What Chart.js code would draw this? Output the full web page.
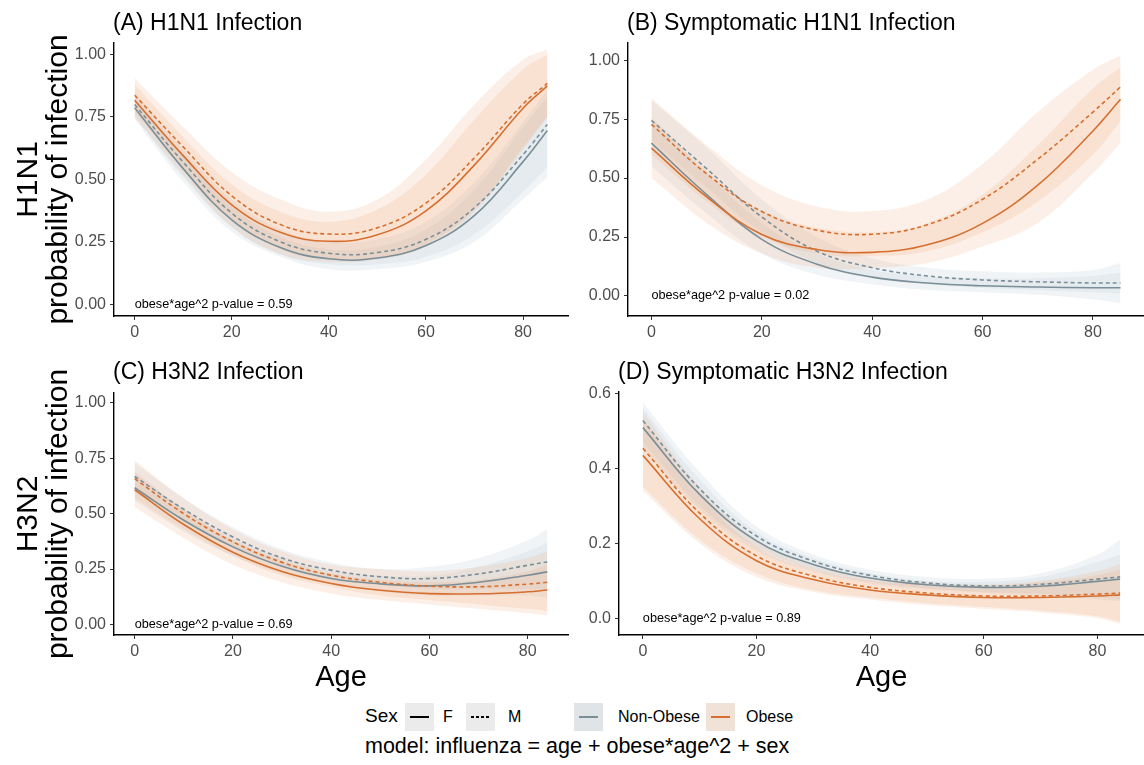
<!DOCTYPE html>
<html>
<head>
<meta charset="utf-8">
<script src="https://cdn.jsdelivr.net/npm/chart.js@4.4.1/dist/chart.umd.min.js"></script>
<style>
  body { margin:0; width:1144px; height:765px; background:#fff; position:relative; overflow:hidden;
         font-family:"Liberation Sans", Arial, Helvetica, sans-serif; }
  canvas { position:absolute; }
  .lg { position:absolute; color:#000; white-space:nowrap; }
  .key { position:absolute; width:29px; height:28px; }
  .key i { position:absolute; left:5px; top:13px; width:19px; height:2px; }
</style>
</head>
<body>
<canvas id="pA" width="572" height="345" style="left:0;top:0"></canvas>
<canvas id="pB" width="569" height="345" style="left:575px;top:0"></canvas>
<canvas id="pC" width="572" height="355" style="left:0;top:345px"></canvas>
<canvas id="pD" width="569" height="355" style="left:575px;top:345px"></canvas>

<div class="lg" style="left:365px;top:705px;font-size:19px;">Sex</div>
<div class="key" style="left:405px;top:703px;background:#ebebeb;"><i style="background:#000"></i></div>
<div class="lg" style="left:443px;top:708px;font-size:16px;">F</div>
<div class="key" style="left:466px;top:703px;background:#ebebeb;"><i style="background:repeating-linear-gradient(to right,#000 0 3px,transparent 3px 5px)"></i></div>
<div class="lg" style="left:508px;top:708px;font-size:16px;">M</div>
<div class="key" style="left:574px;top:703px;background:#e0e4e7;"><i style="background:#7a8e98"></i></div>
<div class="lg" style="left:618px;top:708px;font-size:16px;">Non-Obese</div>
<div class="key" style="left:706px;top:703px;background:#f1e2d7;"><i style="background:#d66f2e"></i></div>
<div class="lg" style="left:746px;top:708px;font-size:16px;">Obese</div>
<div class="lg" style="left:365px;top:734px;font-size:21.5px;">model: influenza = age + obese*age^2 + sex</div>

<script>
// ---- ages at which the fitted curves are tabulated ----
const agesH1 = [0, 10, 20, 30, 40, 50, 60, 70, 80, 85];
const agesH3 = [0, 10, 20, 30, 40, 50, 60, 70, 80, 84];
const xTicks = [0, 20, 40, 60, 80];
const yTicksProb = [0, 0.25, 0.5, 0.75, 1];
const yTicksD = [0, 0.2, 0.4, 0.6];

// ---- (A) H1N1 infection ----
const A_obF = [0.817, 0.595, 0.398, 0.288, 0.252, 0.278, 0.374, 0.558, 0.785, 0.874];
const A_obM = [0.837, 0.630, 0.434, 0.319, 0.281, 0.306, 0.405, 0.587, 0.802, 0.884];
const A_noF = [0.787, 0.543, 0.338, 0.227, 0.182, 0.185, 0.235, 0.356, 0.571, 0.696];
const A_noM = [0.800, 0.569, 0.365, 0.250, 0.204, 0.207, 0.260, 0.387, 0.599, 0.720];
const A_obF_lo = [0.75, 0.52, 0.31, 0.20, 0.17, 0.18, 0.23, 0.37, 0.62, 0.75];
const A_obF_hi = [0.88, 0.67, 0.48, 0.37, 0.33, 0.38, 0.52, 0.74, 0.94, 1.00];
const A_obM_lo = [0.77, 0.55, 0.34, 0.22, 0.18, 0.18, 0.24, 0.38, 0.63, 0.75];
const A_obM_hi = [0.905, 0.71, 0.53, 0.42, 0.37, 0.42, 0.58, 0.80, 0.98, 1.02];
const A_noF_lo = [0.74, 0.49, 0.29, 0.19, 0.14, 0.14, 0.17, 0.25, 0.42, 0.51];
const A_noF_hi = [0.83, 0.60, 0.39, 0.27, 0.22, 0.23, 0.30, 0.46, 0.71, 0.83];
const A_noM_lo = [0.75, 0.51, 0.31, 0.20, 0.16, 0.16, 0.19, 0.28, 0.45, 0.55];
const A_noM_hi = [0.85, 0.62, 0.42, 0.30, 0.25, 0.26, 0.33, 0.49, 0.73, 0.86];

// ---- (B) symptomatic H1N1 infection ----
const B_obF = [0.627, 0.420, 0.261, 0.197, 0.185, 0.217, 0.308, 0.470, 0.700, 0.834];
const B_obM = [0.728, 0.518, 0.358, 0.279, 0.262, 0.302, 0.410, 0.580, 0.780, 0.887];
const B_noF = [0.648, 0.430, 0.240, 0.135, 0.080, 0.055, 0.043, 0.038, 0.035, 0.035];
const B_noM = [0.745, 0.540, 0.335, 0.190, 0.120, 0.085, 0.068, 0.060, 0.055, 0.055];
const B_obF_lo = [0.50, 0.31, 0.18, 0.12, 0.12, 0.14, 0.21, 0.31, 0.52, 0.65];
const B_obF_hi = [0.76, 0.53, 0.36, 0.29, 0.27, 0.31, 0.43, 0.64, 0.88, 0.97];
const B_obM_lo = [0.60, 0.40, 0.25, 0.18, 0.17, 0.19, 0.27, 0.40, 0.60, 0.74];
const B_obM_hi = [0.84, 0.64, 0.47, 0.38, 0.36, 0.41, 0.56, 0.78, 0.96, 1.02];
const B_noF_lo = [0.55, 0.35, 0.18, 0.09, 0.05, 0.025, 0.015, 0.005, -0.015, -0.03];
const B_noF_hi = [0.75, 0.52, 0.31, 0.18, 0.11, 0.085, 0.075, 0.075, 0.085, 0.10];
const B_noM_lo = [0.66, 0.46, 0.27, 0.14, 0.075, 0.05, 0.035, 0.025, 0.015, 0.01];
const B_noM_hi = [0.83, 0.63, 0.41, 0.25, 0.16, 0.12, 0.105, 0.10, 0.11, 0.14];

// ---- (C) H3N2 infection ----
const C_obF = [0.608, 0.451, 0.326, 0.239, 0.185, 0.154, 0.139, 0.138, 0.147, 0.155];
const C_obM = [0.658, 0.500, 0.373, 0.280, 0.222, 0.190, 0.173, 0.170, 0.182, 0.190];
const C_noF = [0.617, 0.470, 0.350, 0.262, 0.207, 0.183, 0.174, 0.190, 0.222, 0.237];
const C_noM = [0.668, 0.520, 0.395, 0.300, 0.245, 0.215, 0.207, 0.228, 0.267, 0.282];
const C_obF_lo = [0.53, 0.39, 0.27, 0.19, 0.14, 0.11, 0.09, 0.07, 0.05, 0.04];
const C_obF_hi = [0.69, 0.52, 0.38, 0.29, 0.23, 0.20, 0.19, 0.20, 0.24, 0.27];
const C_obM_lo = [0.57, 0.43, 0.31, 0.22, 0.17, 0.13, 0.11, 0.09, 0.07, 0.06];
const C_obM_hi = [0.74, 0.57, 0.43, 0.33, 0.27, 0.25, 0.24, 0.26, 0.30, 0.33];
const C_noF_lo = [0.56, 0.42, 0.31, 0.23, 0.18, 0.15, 0.13, 0.13, 0.13, 0.12];
const C_noF_hi = [0.68, 0.52, 0.39, 0.30, 0.24, 0.22, 0.22, 0.26, 0.33, 0.37];
const C_noM_lo = [0.60, 0.47, 0.35, 0.26, 0.21, 0.18, 0.16, 0.16, 0.16, 0.16];
const C_noM_hi = [0.73, 0.57, 0.44, 0.34, 0.28, 0.25, 0.26, 0.30, 0.38, 0.43];

// ---- (D) symptomatic H3N2 infection ----
const D_obF = [0.434, 0.265, 0.153, 0.103, 0.075, 0.062, 0.055, 0.055, 0.059, 0.062];
const D_obM = [0.453, 0.280, 0.166, 0.112, 0.082, 0.067, 0.059, 0.059, 0.064, 0.067];
const D_noF = [0.508, 0.330, 0.206, 0.143, 0.107, 0.089, 0.082, 0.085, 0.098, 0.104];
const D_noM = [0.527, 0.345, 0.219, 0.152, 0.114, 0.094, 0.086, 0.090, 0.104, 0.110];
const D_obF_lo = [0.34, 0.20, 0.11, 0.07, 0.05, 0.035, 0.025, 0.015, 0.0, -0.015];
const D_obF_hi = [0.53, 0.33, 0.19, 0.13, 0.10, 0.09, 0.085, 0.095, 0.115, 0.13];
const D_obM_lo = [0.35, 0.21, 0.12, 0.075, 0.055, 0.04, 0.03, 0.02, 0.005, -0.01];
const D_obM_hi = [0.55, 0.35, 0.21, 0.14, 0.11, 0.095, 0.09, 0.10, 0.125, 0.145];
const D_noF_lo = [0.45, 0.29, 0.18, 0.125, 0.093, 0.077, 0.068, 0.06, 0.05, 0.045];
const D_noF_hi = [0.56, 0.37, 0.23, 0.16, 0.12, 0.10, 0.097, 0.11, 0.15, 0.17];
const D_noM_lo = [0.47, 0.30, 0.19, 0.13, 0.097, 0.08, 0.07, 0.065, 0.055, 0.05];
const D_noM_hi = [0.575, 0.39, 0.245, 0.17, 0.13, 0.11, 0.105, 0.12, 0.17, 0.21];

const pvalA = 'obese*age^2 p-value = 0.59';
const pvalB = 'obese*age^2 p-value = 0.02';
const pvalC = 'obese*age^2 p-value = 0.69';
const pvalD = 'obese*age^2 p-value = 0.89';

// ---- styling ----
const FONT = '"Liberation Sans", Arial, Helvetica, sans-serif';
const ORANGE = '#d66f2e';
const GREY = '#7a8e98';
const ORANGE_FILL = 'rgba(235,160,110,0.17)';
const GREY_FILL = 'rgba(150,170,185,0.13)';
Chart.defaults.font.family = FONT;

const pts = (ages, vals) => ages.map((a, i) => ({ x: a, y: vals[i] }));

function curve(ages, vals, color, dashed) {
  return { data: pts(ages, vals), borderColor: color, borderWidth: 1.6,
           borderDash: dashed ? [4, 3] : [], pointRadius: 0, fill: false, tension: 0.4 };
}
function band(ages, lo, hi, color) {
  return [
    { data: pts(ages, hi), borderColor: 'rgba(0,0,0,0)', borderWidth: 0, pointRadius: 0,
      backgroundColor: color, fill: '+1', tension: 0.4 },
    { data: pts(ages, lo), borderColor: 'rgba(0,0,0,0)', borderWidth: 0, pointRadius: 0,
      fill: false, tension: 0.4 }
  ];
}

// panel heading drawn flush with the left edge of the plotting area
const panelTitle = {
  id: 'panelTitle',
  afterDraw(chart, args, opts) {
    const ctx = chart.ctx;
    ctx.save();
    ctx.font = '23px ' + FONT;
    ctx.fillStyle = '#000';
    ctx.textAlign = 'left';
    ctx.textBaseline = 'alphabetic';
    ctx.fillText(opts.text, chart.chartArea.left - 1, opts.y);
    ctx.restore();
  }
};
// p-value note anchored at age 0, probability 0
const pNote = {
  id: 'pNote',
  afterDatasetsDraw(chart, args, opts) {
    const ctx = chart.ctx;
    ctx.save();
    ctx.font = '12.7px ' + FONT;
    ctx.fillStyle = '#000';
    ctx.textAlign = 'left';
    ctx.textBaseline = 'middle';
    ctx.fillText(opts.text, chart.scales.x.getPixelForValue(0), chart.scales.y.getPixelForValue(0));
    ctx.restore();
  }
};

function panel(id, p) {
  const datasets = [
    curve(p.ages, p.obM, ORANGE, true),
    curve(p.ages, p.obF, ORANGE, false),
    curve(p.ages, p.noM, GREY, true),
    curve(p.ages, p.noF, GREY, false),
    ...band(p.ages, p.obM_lo, p.obM_hi, ORANGE_FILL),
    ...band(p.ages, p.obF_lo, p.obF_hi, ORANGE_FILL),
    ...band(p.ages, p.noM_lo, p.noM_hi, GREY_FILL),
    ...band(p.ages, p.noF_lo, p.noF_hi, GREY_FILL)
  ];
  const axisCommon = {
    type: 'linear',
    grid: { display: true, drawOnChartArea: false, drawTicks: true, tickLength: 4, color: '#333', lineWidth: 1 },
    border: { display: true, color: '#000', width: 1.4 }
  };
  new Chart(document.getElementById(id), {
    type: 'line',
    data: { datasets },
    options: {
      responsive: false, animation: false, events: [],
      layout: { padding: { top: p.padTop, right: p.padRight, left: 0, bottom: 0 } },
      plugins: {
        legend: { display: false }, tooltip: { enabled: false },
        panelTitle: { text: p.title, y: p.titleY },
        pNote: { text: p.note }
      },
      scales: {
        x: Object.assign({}, axisCommon, {
          min: p.xMin, max: p.xMax,
          afterBuildTicks: s => { s.ticks = xTicks.map(v => ({ value: v })); },
          afterFit: s => { s.height = p.xH; },
          ticks: { font: { size: 16 }, color: '#4d4d4d', padding: 3, maxRotation: 0, callback: v => String(v) },
          title: p.xTitle
            ? { display: true, text: p.xTitle, color: '#000', font: { size: 29, lineHeight: 1.2 }, padding: { top: 0, bottom: 5 } }
            : { display: false }
        }),
        y: Object.assign({}, axisCommon, {
          min: p.yMin, max: p.yMax,
          afterBuildTicks: s => { s.ticks = p.yTicks.map(v => ({ value: v })); },
          afterFit: s => { s.width = p.yW; },
          ticks: { font: { size: 16 }, color: '#4d4d4d', padding: 4, callback: v => v.toFixed(p.yDec) },
          title: p.yTitle
            ? { display: true, text: p.yTitle, color: '#000', font: { size: 30, lineHeight: 1.0 }, padding: { top: 14, bottom: 0 } }
            : { display: false }
        })
      }
    },
    plugins: [panelTitle, pNote]
  });
}

panel('pA', {
  ages: agesH1, obF: A_obF, obM: A_obM, noF: A_noF, noM: A_noM,
  obF_lo: A_obF_lo, obF_hi: A_obF_hi, obM_lo: A_obM_lo, obM_hi: A_obM_hi,
  noF_lo: A_noF_lo, noF_hi: A_noF_hi, noM_lo: A_noM_lo, noM_hi: A_noM_hi,
  title: '(A) H1N1 Infection', titleY: 30, note: pvalA,
  padTop: 43, padRight: 4, yW: 114, xH: 29,
  xMin: -4.25, xMax: 89.25, yMin: -0.047, yMax: 1.046, yTicks: yTicksProb, yDec: 2,
  yTitle: ['H1N1', 'probability of infection']
});
panel('pB', {
  ages: agesH1, obF: B_obF, obM: B_obM, noF: B_noF, noM: B_noM,
  obF_lo: B_obF_lo, obF_hi: B_obF_hi, obM_lo: B_obM_lo, obM_hi: B_obM_hi,
  noF_lo: B_noF_lo, noF_hi: B_noF_hi, noM_lo: B_noM_lo, noM_hi: B_noM_hi,
  title: '(B) Symptomatic H1N1 Infection', titleY: 30, note: pvalB,
  padTop: 43, padRight: 0, yW: 53, xH: 29,
  xMin: -4.25, xMax: 89.25, yMin: -0.085, yMax: 1.073, yTicks: yTicksProb, yDec: 2
});
panel('pC', {
  ages: agesH3, obF: C_obF, obM: C_obM, noF: C_noF, noM: C_noM,
  obF_lo: C_obF_lo, obF_hi: C_obF_hi, obM_lo: C_obM_lo, obM_hi: C_obM_hi,
  noF_lo: C_noF_lo, noF_hi: C_noF_hi, noM_lo: C_noM_lo, noM_hi: C_noM_hi,
  title: '(C) H3N2 Infection', titleY: 34, note: pvalC,
  padTop: 48, padRight: 4, yW: 114, xH: 65,
  xMin: -4.2, xMax: 88.2, yMin: -0.048, yMax: 1.045, yTicks: yTicksProb, yDec: 2,
  yTitle: ['H3N2', 'probability of infection'], xTitle: 'Age'
});
panel('pD', {
  ages: agesH3, obF: D_obF, obM: D_obM, noF: D_noF, noM: D_noM,
  obF_lo: D_obF_lo, obF_hi: D_obF_hi, obM_lo: D_obM_lo, obM_hi: D_obM_hi,
  noF_lo: D_noF_lo, noF_hi: D_noF_hi, noM_lo: D_noM_lo, noM_hi: D_noM_hi,
  title: '(D) Symptomatic H3N2 Infection', titleY: 34, note: pvalD,
  padTop: 47, padRight: 0, yW: 44, xH: 65,
  xMin: -4.2, xMax: 88.2, yMin: -0.045, yMax: 0.603, yTicks: yTicksD, yDec: 1,
  xTitle: 'Age'
});
</script>
</body>
</html>
